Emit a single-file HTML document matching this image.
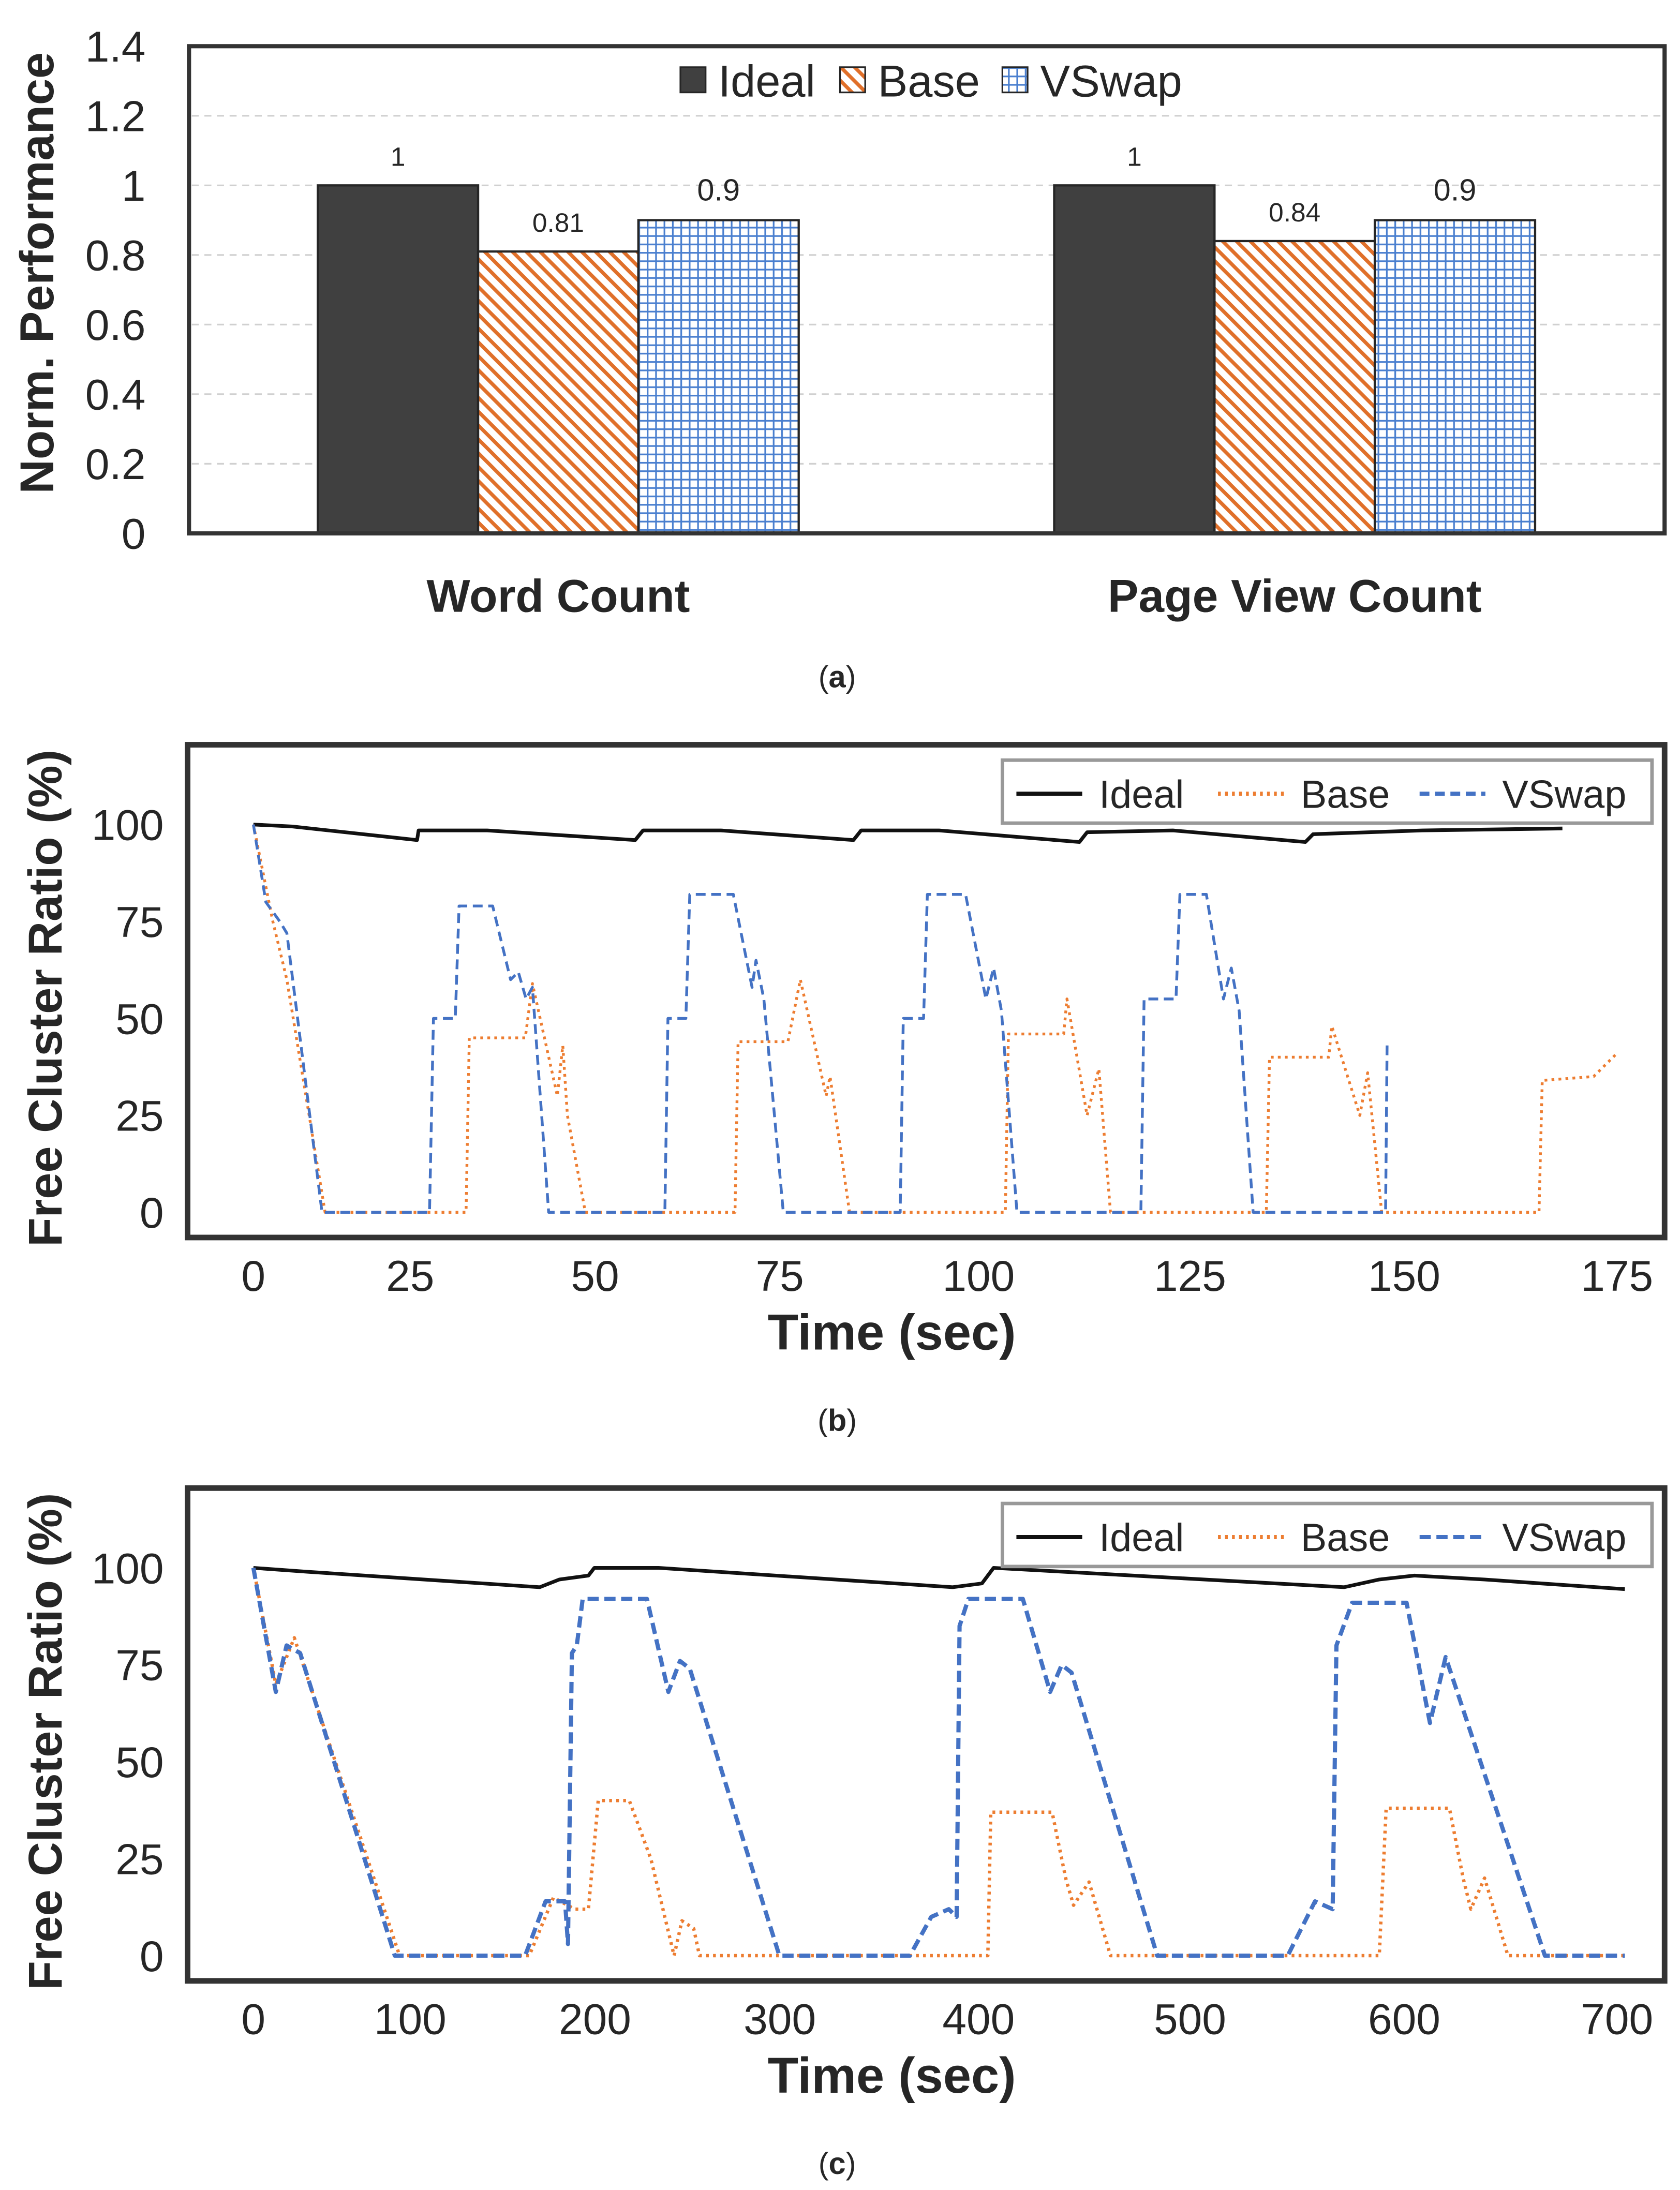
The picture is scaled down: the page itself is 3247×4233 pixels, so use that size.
<!DOCTYPE html>
<html><head><meta charset="utf-8"><style>
html,body{margin:0;padding:0;background:#fff}
svg{display:block}
text{font-family:"Liberation Sans",sans-serif;fill:#262626}
</style></head><body>
<svg id="c" width="3247" height="4233" viewBox="0 0 1200 1564.4" xmlns="http://www.w3.org/2000/svg">
<defs>
<pattern id="hatchBase" patternUnits="userSpaceOnUse" width="7" height="7" patternTransform="rotate(45)">
<rect width="7" height="7" fill="#fff"/><rect x="0" y="0" width="7" height="2.6" fill="#e0702a"/></pattern>
<pattern id="gridV" patternUnits="userSpaceOnUse" width="6" height="6">
<rect width="6" height="6" fill="#fff"/><rect width="6" height="1.2" fill="#4a7fcf"/><rect width="1.2" height="6" fill="#4a7fcf"/></pattern>
</defs>
</svg>
<script>
// ---------- Panel (a) data ----------
const aCategories = ["Word Count", "Page View Count"];
const aSeries = ["Ideal", "Base", "VSwap"];
const aIdeal = [1, 1];
const aBase = [0.81, 0.84];
const aVSwap = [0.9, 0.9];
const aTicks = [0, 0.2, 0.4, 0.6, 0.8, 1, 1.2, 1.4];

// ---------- Panel (b) data ----------
const bTicksX = [0, 25, 50, 75, 100, 125, 150, 175];
const bTicksY = [0, 25, 50, 75, 100];
const bIdealT = [0,5,21,21.2,30,49,50,60,77,78,88,106,107,118,135,136,150,168];
const bIdealV = [100,99.5,96,98.5,98.5,96,98.5,98.5,96,98.5,98.5,95.5,98,98.5,95.5,97.5,98.5,99];
const bVSwapT = [0,1.6,3.4,4.3,8.8,22.6,23.1,25.9,26.4,30.7,33,34,35,35.8,37.9,52.8,53.2,55.5,56,61.6,64,64.5,65.5,68,83,83.4,86,86.5,91.4,94,95,96,98,113.9,114.3,118.4,118.9,122.3,124.5,125.5,126.5,128.3,145.3,145.5];
const bVSwapV = [100,80,75,72,0,0,50,50,79,79,60,62,55,58,0,0,50,50,82,82,58,65,55,0,0,50,50,82,82,55,63,52,0,0,55,55,82,82,55,63,52,0,0,44];
const bBaseT = [0,2.5,4.3,9.2,27.3,27.7,34.9,35.8,39,39.7,40.3,42.6,61.8,62.2,68.6,70.2,73.5,74,76.5,96.5,96.9,104,104.4,107,108.5,110,130,130.4,138,138.4,142,143,144.8,165,165.4,172,175];
const bBaseV = [100,75,60,0,0,45,45,59,30,43,25,0,0,44,44,60,30,35,0,0,46,46,55,25,37,0,0,40,40,48,25,36,0,0,34,35,41];

// ---------- Panel (c) data ----------
const cTicksX = [0, 100, 200, 300, 400, 500, 600, 700];
const cTicksY = [0, 25, 50, 75, 100];
const cIdealT = [0,28,147,157,172,175,208,359,374,380,560,578,596,632,661,704];
const cIdealV = [100,99,95,97,98,100,100,95,96,100,95,97,98,97,96,94.5];
const cVSwapT = [0,11.5,17,24,72.6,139.5,150,160,161.5,163.5,166,169,202,213,219,224,270,337,348,357,361,362.5,367,395,409,415,420,464,531,545,554,556,564,592,604,612,663,704];
const cVSwapV = [100,68,80,78,0,0,14,14,3,78,80,92,92,68,76,74,0,0,10,12,10,85,92,92,68,75,73,0,0,14,12,80,91,91,60,77,0,0];
const cBaseT = [0,11.5,21,75,141.6,154,165,172,177,193,204,216,220,226,229,377,378.5,410,417,421,429,440,578,581.5,614,621,625,632,644,704];
const cBaseV = [100,70,82,0,0,15,12,12,40,40,25,0,9,7,0,0,37,37,20,13,19,0,0,38,38,20,12,20,0,0];

const svg = document.getElementById('c');
const NS = 'http://www.w3.org/2000/svg';
function mk(tag, attrs, parent){const e=document.createElementNS(NS,tag);for(const k in attrs)e.setAttribute(k,attrs[k]);(parent||svg).appendChild(e);return e;}
function txt(s,x,y,size,opts){const t=mk('text',Object.assign({x:x,y:y,'font-size':size,'text-anchor':'middle'},opts||{}));t.textContent=s;return t;}
function caption(letter,y,parent){
  const t=mk('text',{x:598,y:y,'font-size':22,'text-anchor':'middle','font-family':'Liberation Serif'},parent);
  t.appendChild(document.createTextNode('('));
  const b=mk('tspan',{'font-weight':'bold'},t);b.textContent=letter;
  t.appendChild(document.createTextNode(')'));
  return t;
}

// ===== Panel A =====
const gA = mk('g',{});


const aY = v => 381 - v*(381-33)/1.4;
aTicks.forEach(v=>{
  if(v>0&&v<1.4){const l=mk('line',{x1:137,x2:1188,y1:aY(v),y2:aY(v),stroke:'#d0d0d0','stroke-width':1.2,'stroke-dasharray':'5,4'},gA);
  
  }
  const t=txt(String(v),104,aY(v)+11,31,{'text-anchor':'end'});gA.appendChild(t);
  
  
});
const aGroupX=[227,753], aBarW=114.5;
const aFills=['#404040','url(#hatchBase)','url(#gridV)'];
const aVals=[aIdeal,aBase,aVSwap];
aCategories.forEach((c,ci)=>{
  aVals.forEach((arr,si)=>{
    const x=aGroupX[ci]+si*aBarW, y=aY(arr[ci]);
    const r=mk('rect',{x:x,y:y,width:aBarW,height:aY(0)-y,fill:aFills[si],stroke:'#262626','stroke-width':1.6},gA);
    
    
    const t=txt(String(arr[ci]),x+aBarW/2,y-14,si===2?22:19,{});gA.appendChild(t);
    
    
  });
  const t=txt(c,aGroupX[ci]+aBarW*1.5,437,33,{'font-weight':'bold'});gA.appendChild(t);
  
  
});
const fa=mk('rect',{x:135,y:33,width:1054,height:348,fill:'none',stroke:'#333','stroke-width':3},gA);


const yta=txt('Norm. Performance',0,0,34,{'font-weight':'bold',transform:'translate(38,195) rotate(-90)'});gA.appendChild(yta);


const legA=[[486,'Ideal'],[600,'Base'],[716,'VSwap']];
legA.forEach((L,i)=>{
  const r=mk('rect',{x:L[0],y:48,width:18,height:18,fill:aFills[i],stroke:'#262626','stroke-width':1.2},gA);
  
  
  const t=txt(L[1],L[0]+27,69,32,{'text-anchor':'start'});gA.appendChild(t);
  
  
});
const capA=caption('a',491,gA);



// ===== Line panels =====
function linePanel(top, ticksX, xmax, ticksY, series, cap, name){
  const g=mk('g',{});
  
  
  const y0=top+334, y100=top+57;
  const Y=v=>y0-v*(y0-y100)/100;
  const X=t=>181+t*(1155-181)/xmax;
  const labelX=[181,293,425,557,699,850,1003,1155];
  ticksY.forEach(v=>{const t=txt(String(v),117,Y(v)+11,31,{'text-anchor':'end'});g.appendChild(t);
    
    });
  ticksX.forEach((v,i)=>{const t=txt(String(v),labelX[i],top+390,31,{});g.appendChild(t);
    
    });
  series.forEach(s=>{
    const d=s.T.map((t,i)=>(i?'L':'M')+X(t).toFixed(1)+','+Y(s.V[i]).toFixed(1)).join('');
    const p=mk('path',{d:d,fill:'none',stroke:s.color,'stroke-width':s.w,'stroke-dasharray':s.dash,'stroke-linejoin':'round'},g);
    
    
  });
  const f=mk('rect',{x:134,y:top,width:1055,height:352,fill:'none',stroke:'#333','stroke-width':4},g);
  
  
  const lb=mk('rect',{x:716,y:top+11,width:464,height:45,fill:'#fff',stroke:'#999','stroke-width':2.5},g);
  
  
  const lx=[726,870,1014];
  series.forEach((s,i)=>{
    const l=mk('line',{x1:lx[i],x2:lx[i]+47,y1:top+35,y2:top+35,stroke:s.color,'stroke-width':3,'stroke-dasharray':s.dash},g);
    
    
    const t=txt(s.name,lx[i]+59,top+45,28,{'text-anchor':'start'});g.appendChild(t);
    
    
  });
  const yt=txt('Free Cluster Ratio (%)',0,0,34,{'font-weight':'bold',transform:'translate(44,'+(top+181)+') rotate(-90)'});g.appendChild(yt);
  
  
  const xt=txt('Time (sec)',637,top+432,36,{'font-weight':'bold'});g.appendChild(xt);
  
  
  const c=caption(cap,top+490,g);
  
  
}
linePanel(532,bTicksX,175,bTicksY,[
  {name:'Ideal',T:bIdealT,V:bIdealV,color:'#111',w:2.6,dash:'none'},
  {name:'Base',T:bBaseT,V:bBaseV,color:'#ed7d31',w:2,dash:'2,3'},
  {name:'VSwap',T:bVSwapT,V:bVSwapV,color:'#4472c4',w:2,dash:'7,4'}
],'b','panel-b-line-chart');
linePanel(1063,cTicksX,700,cTicksY,[
  {name:'Ideal',T:cIdealT,V:cIdealV,color:'#111',w:2.6,dash:'none'},
  {name:'Base',T:cBaseT,V:cBaseV,color:'#ed7d31',w:2.4,dash:'2,3'},
  {name:'VSwap',T:cVSwapT,V:cVSwapV,color:'#4472c4',w:3,dash:'8,4'}
],'c','panel-c-line-chart');
</script>
</body></html>
